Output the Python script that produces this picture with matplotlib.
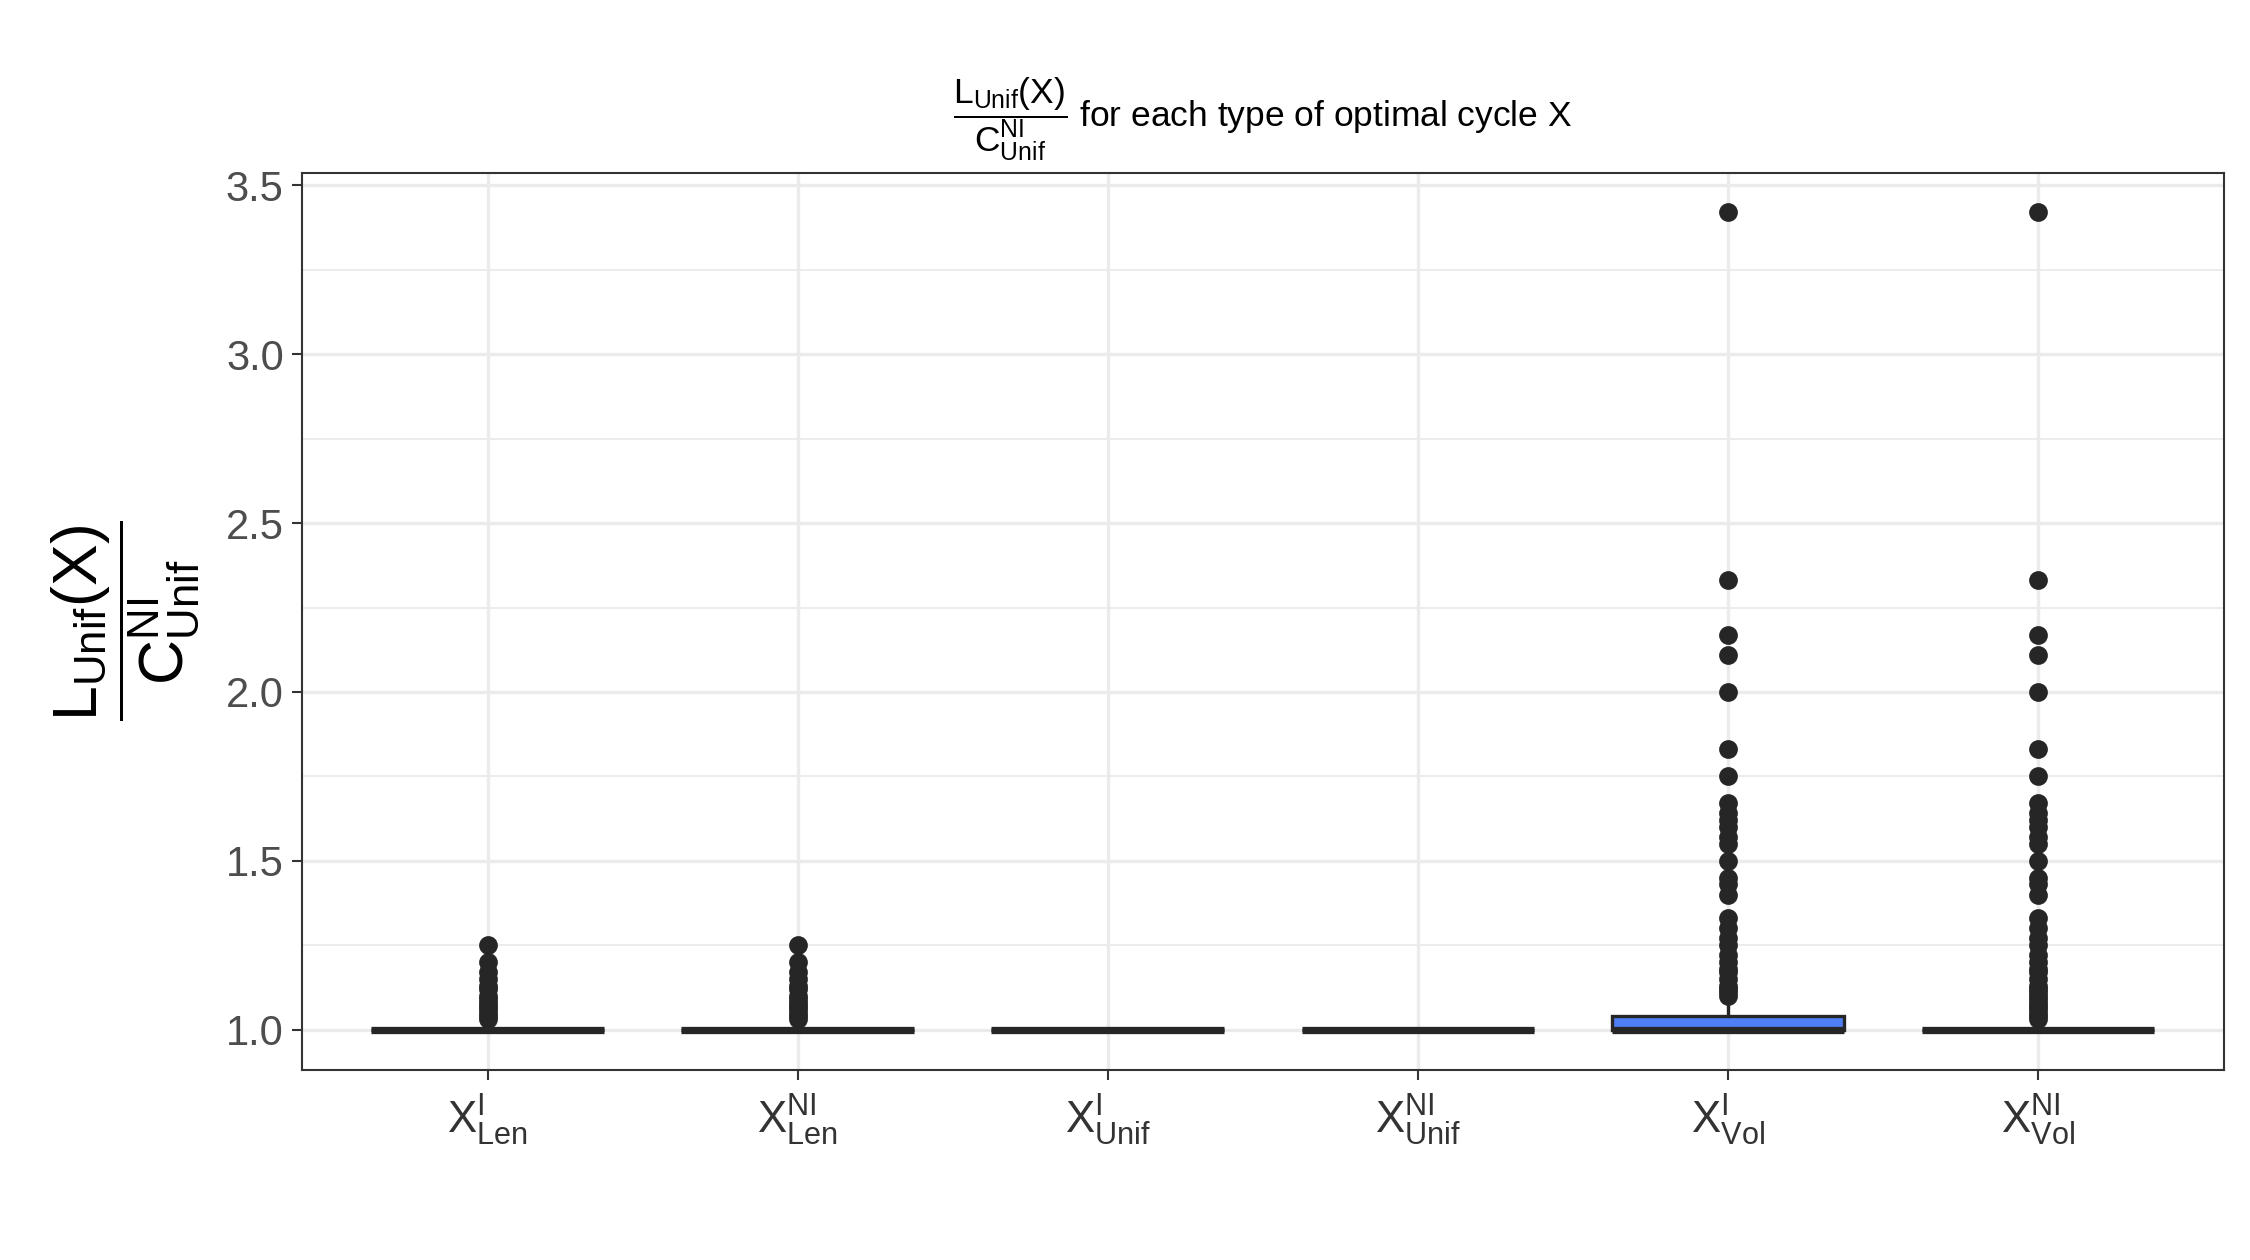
import matplotlib
matplotlib.use("Agg")
import matplotlib.pyplot as plt

plt.rcParams['font.family'] = ['Liberation Sans', 'DejaVu Sans']
plt.rcParams['mathtext.fontset'] = 'custom'
plt.rcParams['mathtext.rm'] = 'Liberation Sans'
plt.rcParams['mathtext.it'] = 'Liberation Sans'

labels = [r'$\mathrm{X^{I}_{Len}}$', r'$\mathrm{X^{NI}_{Len}}$', r'$\mathrm{X^{I}_{Unif}}$',
          r'$\mathrm{X^{NI}_{Unif}}$', r'$\mathrm{X^{I}_{Vol}}$', r'$\mathrm{X^{NI}_{Vol}}$']
q1 = [1.0, 1.0, 1.0, 1.0, 1.0, 1.0]
med = [1.0, 1.0, 1.0, 1.0, 1.0, 1.0]
q3 = [1.0, 1.0, 1.0, 1.0, 1.04, 1.0]
whishi = [1.0, 1.0, 1.0, 1.0, 1.07, 1.0]
len_out = [1.25, 1.2, 1.17, 1.15, 1.13, 1.12, 1.1, 1.09, 1.08, 1.07, 1.06, 1.05, 1.04, 1.03]
vol_i_out = [3.42, 2.33, 2.17, 2.11, 2.0, 1.83, 1.75, 1.67, 1.64, 1.62, 1.6, 1.57, 1.55, 1.5,
             1.45, 1.43, 1.4, 1.33, 1.3, 1.27, 1.25, 1.22, 1.2, 1.18, 1.17, 1.15, 1.13, 1.12, 1.11, 1.1]
vol_ni_out = vol_i_out + [1.09, 1.08, 1.07, 1.06, 1.05, 1.04, 1.03]
fliers = [len_out, len_out, [], [], vol_i_out, vol_ni_out]
fills = ['white', 'white', 'white', 'white', '#4F7FF5', 'white']

stats = []
for i in range(6):
    stats.append(dict(med=med[i], q1=q1[i], q3=q3[i], whislo=1.0, whishi=whishi[i], fliers=fliers[i]))

fig = plt.figure(figsize=(15, 8.4), dpi=150)
ax = fig.add_axes([0.134, 0.151, 0.8545, 0.712])
bp = ax.bxp(stats, positions=range(1, 7), widths=0.75, patch_artist=True, showcaps=False,
            boxprops=dict(edgecolor='#262626', linewidth=1.6),
            medianprops=dict(color='#262626', linewidth=3.5),
            whiskerprops=dict(color='#262626', linewidth=1.6),
            flierprops=dict(marker='o', markerfacecolor='#262626', markeredgecolor='#262626', markersize=8))
for patch, c in zip(bp['boxes'], fills):
    patch.set_facecolor(c)
    patch.set_zorder(3)
for k in ('medians', 'whiskers', 'fliers'):
    for a in bp[k]:
        a.set_zorder(4)

ax.set_xlim(0.4, 6.6)
ax.set_ylim(0.881, 3.538)
ax.set_yticks([1.0, 1.5, 2.0, 2.5, 3.0, 3.5])
ax.set_yticks([1.25, 1.75, 2.25, 2.75, 3.25], minor=True)
ax.set_xticks(range(1, 7))
ax.set_xticklabels(labels, fontsize=21, color='#4d4d4d')
ax.tick_params(axis='y', labelsize=20, colors='#333333', length=5, width=1)
ax.tick_params(axis='y', which='minor', length=0)
ax.tick_params(axis='x', length=5, width=1, colors='#333333', pad=6)
for lab in ax.get_yticklabels():
    lab.set_color('#4d4d4d')
ax.grid(True, which='major', color='#ebebeb', linewidth=1.6)
ax.grid(True, which='minor', axis='y', color='#ebebeb', linewidth=0.9)
ax.set_axisbelow(True)
for s in ax.spines.values():
    s.set_color('#333333')
    s.set_linewidth(1)

ax.set_ylabel(r'$\mathrm{\dfrac{L_{Unif}(X)}{C^{NI}_{Unif}}}$', fontsize=30, labelpad=12)
ax.set_title(r'$\mathrm{\dfrac{L_{Unif}(X)}{C^{NI}_{Unif}}}$ for each type of optimal cycle X',
             fontsize=17, pad=22)

fig.savefig('out.png', dpi=150, facecolor='white')
